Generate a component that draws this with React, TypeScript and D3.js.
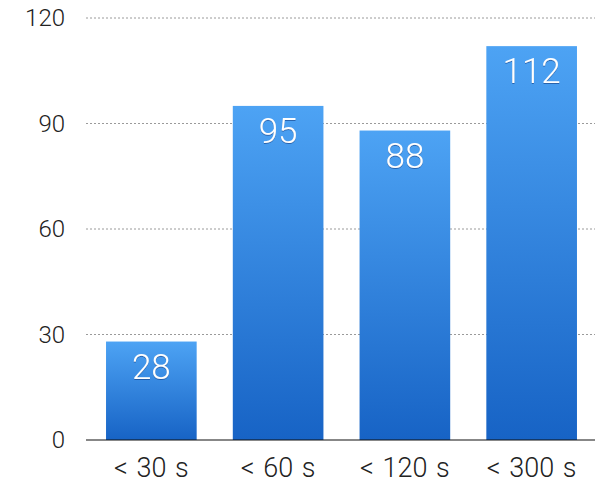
import * as React from "react"
import * as d3 from "d3"

const categories = ["< 30 s", "< 60 s", "< 120 s", "< 300 s"]
const values = [28, 95, 88, 112]
const yTicks = [0, 30, 60, 90, 120]

const width = 595
const height = 483
const font = "'Helvetica Neue', Roboto, 'Liberation Sans', Arial, sans-serif"

export default function App() {
  const x = d3
    .scaleBand<string>()
    .domain(categories)
    .range([86, 597])
    .paddingInner(0.285)
    .paddingOuter(0.158)

  const y = d3.scaleLinear().domain([0, 120]).range([440, 18])

  return (
    <div style={{ position: "absolute", left: 0, top: 0 }}>
      <svg width={width} height={height} style={{ display: "block", background: "#fff" }}>
        <defs>
          <linearGradient id="barGrad" x1="0" y1="0" x2="0" y2="1">
            <stop offset="0%" stopColor="#4da3f4" />
            <stop offset="100%" stopColor="#1763c5" />
          </linearGradient>
          <filter id="txtShadow" x="-20%" y="-20%" width="140%" height="140%">
            <feDropShadow dx="0" dy="1" stdDeviation="0.6" floodColor="#0a3a80" floodOpacity="0.6" />
          </filter>
        </defs>

        {/* gridlines */}
        {yTicks.filter((t) => t > 0).map((t) => (
          <line
            key={t}
            x1={86}
            x2={width}
            y1={y(t)}
            y2={y(t)}
            stroke="#9a9a9a"
            strokeWidth={1}
            strokeDasharray="2,2"
          />
        ))}

        {/* y tick labels */}
        {yTicks.map((t) => (
          <text
            key={t}
            x={65}
            y={y(t)}
            dy="0.35em"
            textAnchor="end"
            fontFamily={font}
            fontWeight={300}
            fontSize={24}
            fill="#222"
          >
            {t}
          </text>
        ))}

        {/* bars */}
        {categories.map((c, i) => (
          <rect
            key={c}
            x={x(c)}
            y={y(values[i])}
            width={x.bandwidth()}
            height={y(0) - y(values[i])}
            fill="url(#barGrad)"
          />
        ))}

        {/* value labels */}
        {categories.map((c, i) => (
          <text
            key={c}
            x={(x(c) || 0) + x.bandwidth() / 2}
            y={y(values[i]) + 37}
            textAnchor="middle"
            fontFamily={font}
            fontWeight={300}
            fontSize={35}
            fill="#fff"
            filter="url(#txtShadow)"
          >
            {values[i]}
          </text>
        ))}

        {/* x axis */}
        <line x1={86} x2={width} y1={y(0)} y2={y(0)} stroke="#111" strokeWidth={1.2} />
        {categories.map((c) => (
          <text
            key={c}
            x={(x(c) || 0) + x.bandwidth() / 2}
            y={477}
            textAnchor="middle"
            fontFamily={font}
            fontWeight={300}
            fontSize={27}
            wordSpacing={2}
            fill="#222"
          >
            {c}
          </text>
        ))}
      </svg>
    </div>
  )
}
